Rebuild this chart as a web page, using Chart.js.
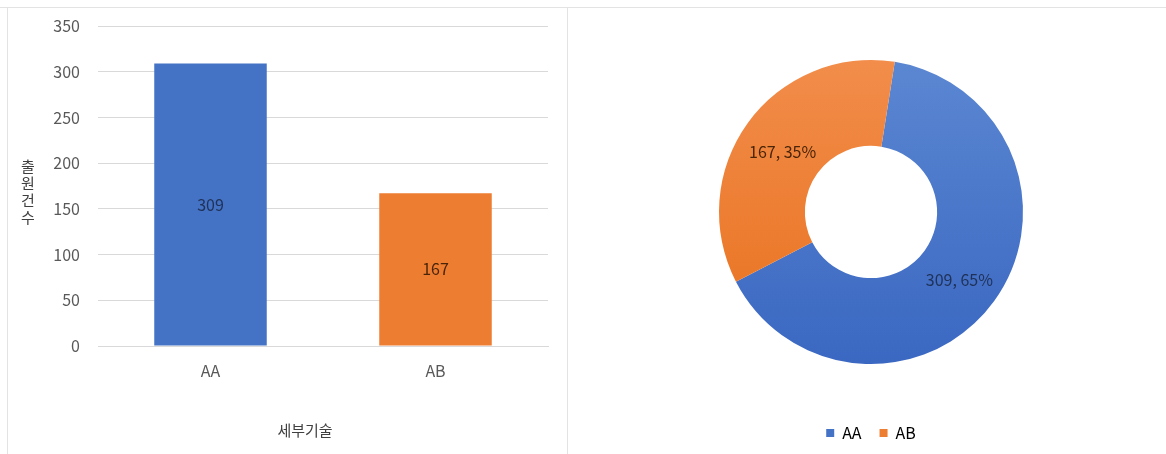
<!DOCTYPE html>
<html>
<head>
<meta charset="utf-8">
<script src="https://cdn.jsdelivr.net/npm/chart.js@4"></script>
<style>
  html, body { margin: 0; padding: 0; background: #fff; }
  body { width: 1166px; height: 454px; position: relative; overflow: hidden; }
  .box { position: absolute; }
  .line { position: absolute; background: #e3e3e3; }
</style>
</head>
<body>
<div class="line" style="left:0;top:7px;width:1166px;height:1px"></div>
<div class="line" style="left:7px;top:7px;width:1px;height:447px"></div>
<div class="line" style="left:567px;top:7px;width:1px;height:447px"></div>
<div class="box" style="left:8px;top:8px;width:559px;height:446px"><canvas id="bar"></canvas></div>
<div class="box" style="left:568px;top:4px;width:598px;height:447px"><canvas id="donut"></canvas></div>
<script>
const categories = ['AA', 'AB'];
const counts = [309, 167];
const yTicks = [0, 50, 100, 150, 200, 250, 300, 350];
const xTitle = '세부기술';
const yTitle = '출원건수';

const FONT = "'Noto Sans CJK KR', 'Noto Sans', sans-serif";
const fill = ['#4472C4', '#ED7D31'];
const labelInk = ['#1f3157', '#4a2408'];

Chart.defaults.font.family = FONT;
Chart.defaults.color = '#595959';

// value inside each bar, axis titles (the y one stacked upright)
const barText = {
  id: 'barText',
  afterDatasetsDraw(chart) {
    const ctx = chart.ctx;
    ctx.save();
    ctx.font = '16px ' + FONT;
    ctx.textAlign = 'center';
    ctx.textBaseline = 'middle';
    chart.getDatasetMeta(0).data.forEach((bar, i) => {
      ctx.fillStyle = labelInk[i];
      ctx.fillText(counts[i], bar.x, (bar.y + bar.base) / 2);
    });
    const a = chart.chartArea;
    ctx.fillStyle = '#404040';
    ctx.font = '15px ' + FONT;
    ctx.fillText(xTitle, (a.left + a.right) / 2 - 18, a.bottom + 84);
    const chars = Array.from(yTitle);
    const step = 17;
    const mid = (a.top + a.bottom) / 2 + 6;
    chars.forEach((c, i) => {
      ctx.fillText(c, 20, mid + (i - (chars.length - 1) / 2) * step);
    });
    ctx.restore();
  }
};

new Chart(document.getElementById('bar'), {
  type: 'bar',
  data: {
    labels: categories,
    datasets: [{
      data: counts,
      backgroundColor: fill,
      barPercentage: 0.5,
      categoryPercentage: 1
    }]
  },
  options: {
    responsive: true,
    maintainAspectRatio: false,
    animation: false,
    layout: { padding: { left: 0, right: 19, top: 18, bottom: 0 } },
    plugins: { legend: { display: false }, tooltip: { enabled: false } },
    scales: {
      x: {
        grid: { display: false, drawTicks: false },
        border: { color: '#d9d9d9' },
        ticks: { padding: 15, font: { size: 16 } },
        afterFit(s) { s.height = 108; }
      },
      y: {
        min: 0,
        max: 350,
        afterBuildTicks(s) { s.ticks = yTicks.map(v => ({ value: v })); },
        grid: { color: '#d9d9d9', drawTicks: false },
        border: { display: false },
        ticks: { padding: 18, font: { size: 16 } },
        afterFit(s) {
          s.width = 90;
          s.paddingTop = 0;
          s.paddingBottom = 0;
        }
      }
    }
  },
  plugins: [barText]
});

// "value, percent" at the middle of each ring segment
const ringText = {
  id: 'ringText',
  afterDatasetsDraw(chart) {
    const ctx = chart.ctx;
    const total = counts.reduce((a, b) => a + b, 0);
    ctx.save();
    ctx.font = '16px ' + FONT;
    ctx.textAlign = 'center';
    ctx.textBaseline = 'middle';
    chart.getDatasetMeta(0).data.forEach((arc, i) => {
      const p = arc.tooltipPosition();
      ctx.fillStyle = labelInk[i];
      ctx.fillText(counts[i] + ', ' + Math.round(counts[i] / total * 100) + '%', p.x, p.y + 4);
    });
    ctx.restore();
  }
};

const shades = [['#5b87d2', '#3a67c1'], ['#f28d4b', '#e8701c']];
function ringFill(c) {
  const a = c.chart.chartArea;
  if (!a) return fill[c.dataIndex];
  const cy = (a.top + a.bottom) / 2;
  const g = c.chart.ctx.createLinearGradient(0, cy - 155, 0, cy + 155);
  g.addColorStop(0, shades[c.dataIndex][0]);
  g.addColorStop(1, shades[c.dataIndex][1]);
  return g;
}

new Chart(document.getElementById('donut'), {
  type: 'doughnut',
  data: {
    labels: categories,
    datasets: [{
      data: counts,
      backgroundColor: ringFill,
      borderWidth: 0,
      radius: 152,
      cutout: '43.5%'
    }]
  },
  options: {
    responsive: true,
    maintainAspectRatio: false,
    animation: false,
    rotation: 9,
    layout: { padding: { left: 8, top: 13 } },
    plugins: {
      tooltip: { enabled: false },
      legend: {
        position: 'bottom',
        labels: {
          boxWidth: 8,
          boxHeight: 8,
          padding: 18,
          font: { size: 16 },
          color: '#595959',
          generateLabels(chart) {
            return categories.map((t, i) => ({ text: t, fillStyle: fill[i], strokeStyle: fill[i], lineWidth: 0, index: i }));
          }
        }
      }
    }
  },
  plugins: [ringText]
});
</script>
</body>
</html>
